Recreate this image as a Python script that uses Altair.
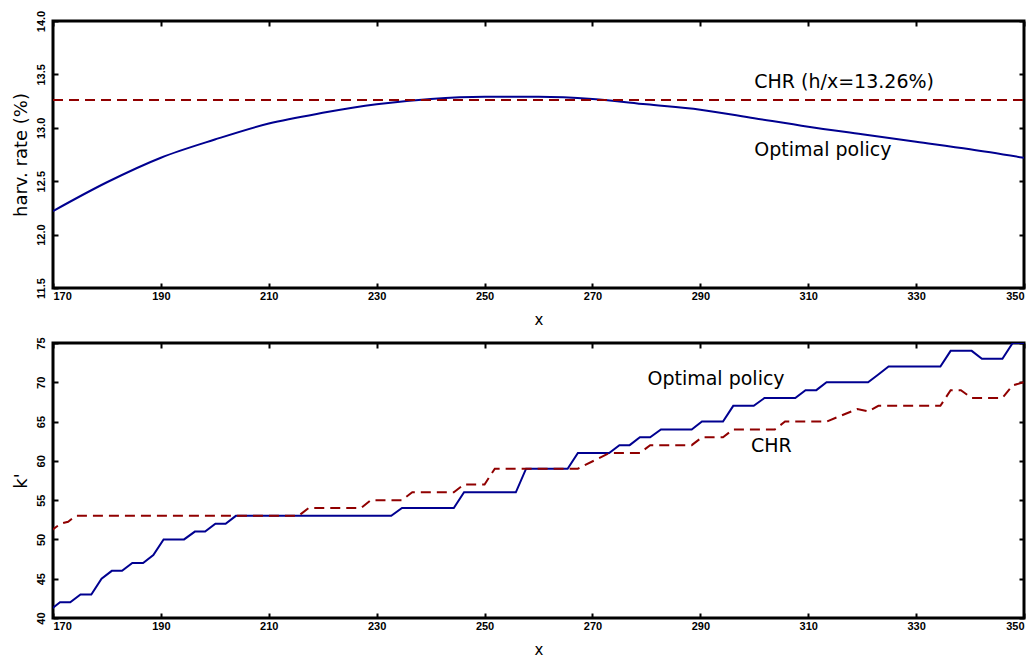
import altair as alt
import pandas as pd

# ---------------- data ----------------
# top panel: harvest rate (%) vs x
top_x = [170, 180, 190, 200, 210, 220, 230, 240, 250, 260, 270, 280, 290, 300, 310, 320, 330, 340, 350]
top_opt = [12.22, 12.49, 12.72, 12.89, 13.04, 13.14, 13.22, 13.27, 13.29, 13.29, 13.27, 13.22, 13.17, 13.09,
           13.01, 12.94, 12.87, 12.80, 12.72]
chr_x_span = [170, 350]
chr_rate = [13.26, 13.26]

# bottom panel: k' vs x (vertices of the stepped policies)
opt_x = [169.4, 171.3, 173.2, 175.1, 177.1, 179.0, 180.9, 182.8, 184.7, 186.7, 188.6, 190.5, 194.3, 196.3,
         198.2, 200.1, 202.0, 203.9, 232.7, 234.7, 244.3, 246.2, 255.8, 257.7, 265.4, 267.3, 273.1, 275.0,
         276.9, 278.8, 280.7, 282.7, 288.4, 290.3, 294.2, 296.1, 299.9, 301.9, 307.6, 309.5, 311.5, 313.4,
         321.1, 323.0, 324.9, 334.5, 336.4, 340.3, 342.2, 346.0, 347.9, 350.0]
opt_k = [41, 42, 42, 43, 43, 45, 46, 46, 47, 47, 48, 50, 50, 51, 51, 52, 52, 53, 53, 54, 54, 56, 56, 59,
         59, 61, 61, 62, 62, 63, 63, 64, 64, 65, 65, 67, 67, 68, 68, 69, 69, 70, 70, 71, 72, 72, 74, 74,
         73, 73, 75, 75]
chr_x = [169.4, 171.4, 172.8, 174.2, 215.5, 217.4, 227.1, 228.9, 234.7, 236.6, 244.3, 246.2, 250.0, 251.9,
         267.3, 273.1, 278.8, 280.7, 288.4, 290.3, 294.2, 296.1, 303.8, 305.7, 313.4, 319.1, 321.1, 323.0,
         334.5, 336.4, 338.3, 340.3, 346.0, 347.9, 349.9]
chr_k = [51.0, 52.0, 52.25, 53.0, 53, 54, 54, 55, 55, 56, 56, 57, 57, 59, 59, 61, 61, 62, 62, 63, 63, 64,
         64, 65, 65, 66.6, 66.3, 67, 67, 69, 69, 68, 68, 69.6, 70]

# tick values
x_ticks = [170, 190, 210, 230, 250, 270, 290, 310, 330, 350]
top_y_ticks = [11.5, 12.0, 12.5, 13.0, 13.5, 14.0]
bot_y_ticks = [40, 45, 50, 55, 60, 65, 70, 75]

# annotations
top_ann_x = [300, 300]
top_ann_y = [13.43, 12.79]
top_ann_t = ["CHR (h/x=13.26%)", "Optimal policy"]
bot_ann_x = [280.2, 299.4]
bot_ann_y = [70.4, 61.9]
bot_ann_t = ["Optimal policy", "CHR"]

# ---------------- style ----------------
BLUE = "#000090"
RED = "#900000"
LBL_FONT = "Liberation Sans"
TXT_FONT = "DejaVu Sans"
W, H_TOP, H_BOT = 971, 267, 275
TS = 5


def tick_axis(orient, values, **kw):
    base = dict(orient=orient, values=values, offset=-TS, tickSize=TS, tickWidth=2, tickColor="black",
                domain=False, grid=False)
    base.update(kw)
    return alt.Axis(**base)


def main_x_axis():
    return tick_axis("bottom", x_ticks, format="d", title="x",
                     labelFont=LBL_FONT, labelFontWeight="bold", labelFontSize=11, labelColor="black",
                     labelPadding=2,
                     labelAlign={"condition": [{"test": "datum.value == 170", "value": "left"},
                                               {"test": "datum.value == 350", "value": "right"}],
                                 "value": "center"},
                     titleFont=TXT_FONT, titleFontSize=15, titleFontWeight="normal", titleColor="black",
                     titlePadding=11)


def main_y_axis(values, fmt, title):
    return tick_axis("left", values, format=fmt, title=title, labelAngle=270, labelAlign="center",
                     labelBaseline="bottom",
                     labelFont=LBL_FONT, labelFontWeight="bold", labelFontSize=11, labelColor="black",
                     labelPadding=7,
                     titleFont=TXT_FONT, titleFontSize=18, titleFontWeight="normal", titleColor="black",
                     titlePadding=5)


xscale = alt.Scale(domain=[170, 350], nice=False, zero=False)
ytop = alt.Scale(domain=[11.5, 14.0], nice=False, zero=False)
ybot = alt.Scale(domain=[40, 75], nice=False, zero=False)

# ---------------- top panel ----------------
top_df = pd.DataFrame({"x": top_x, "v": top_opt})
top_chr_df = pd.DataFrame({"x": chr_x_span, "v": chr_rate})
top_ann_df = pd.DataFrame({"x": top_ann_x, "v": top_ann_y, "t": top_ann_t})

t1 = alt.Chart(top_df).mark_line(color=BLUE, strokeWidth=2, interpolate="monotone", clip=True).encode(
    x=alt.X("x:Q", scale=xscale, axis=main_x_axis()),
    y=alt.Y("v:Q", scale=ytop, axis=main_y_axis(top_y_ticks, ".1f", "harv. rate (%)")),
)
t2 = alt.Chart(top_chr_df).mark_line(color=RED, strokeWidth=2, strokeDash=[10, 6], clip=True).encode(
    x=alt.X("x:Q", scale=xscale, axis=tick_axis("top", x_ticks, labels=False, title=None)),
    y=alt.Y("v:Q", scale=ytop, axis=tick_axis("right", top_y_ticks, labels=False, title=None)),
)
t3 = alt.Chart(top_ann_df).mark_text(align="left", baseline="middle", font=TXT_FONT, fontSize=19,
                                     color="black").encode(
    x=alt.X("x:Q", scale=xscale, axis=None),
    y=alt.Y("v:Q", scale=ytop, axis=None),
    text="t:N",
)
top = alt.layer(t1, t2, t3).resolve_axis(x="independent", y="independent").properties(width=W, height=H_TOP)

# ---------------- bottom panel ----------------
opt_df = pd.DataFrame({"x": opt_x, "k": opt_k})
chr_df = pd.DataFrame({"x": chr_x, "k": chr_k})
bot_ann_df = pd.DataFrame({"x": bot_ann_x, "k": bot_ann_y, "t": bot_ann_t})

b1 = alt.Chart(opt_df).mark_line(color=BLUE, strokeWidth=2, clip=True).encode(
    x=alt.X("x:Q", scale=xscale, axis=main_x_axis()),
    y=alt.Y("k:Q", scale=ybot, axis=main_y_axis(bot_y_ticks, "d", "k'")),
)
b2 = alt.Chart(chr_df).mark_line(color=RED, strokeWidth=2, strokeDash=[10, 6], clip=True).encode(
    x=alt.X("x:Q", scale=xscale, axis=tick_axis("top", x_ticks, labels=False, title=None)),
    y=alt.Y("k:Q", scale=ybot, axis=tick_axis("right", bot_y_ticks, labels=False, title=None)),
)
b3 = alt.Chart(bot_ann_df).mark_text(align="left", baseline="middle", font=TXT_FONT, fontSize=19,
                                     color="black").encode(
    x=alt.X("x:Q", scale=xscale, axis=None),
    y=alt.Y("k:Q", scale=ybot, axis=None),
    text="t:N",
)
bottom = alt.layer(b1, b2, b3).resolve_axis(x="independent", y="independent").properties(width=W, height=H_BOT)

chart = alt.vconcat(top, bottom, spacing=6).configure_view(
    stroke="black", strokeWidth=3
).properties(padding={"left": 2, "top": 0, "right": 0, "bottom": 0}, background="white")

chart.save("out.html", embed_options={"renderer": "svg", "actions": False})
